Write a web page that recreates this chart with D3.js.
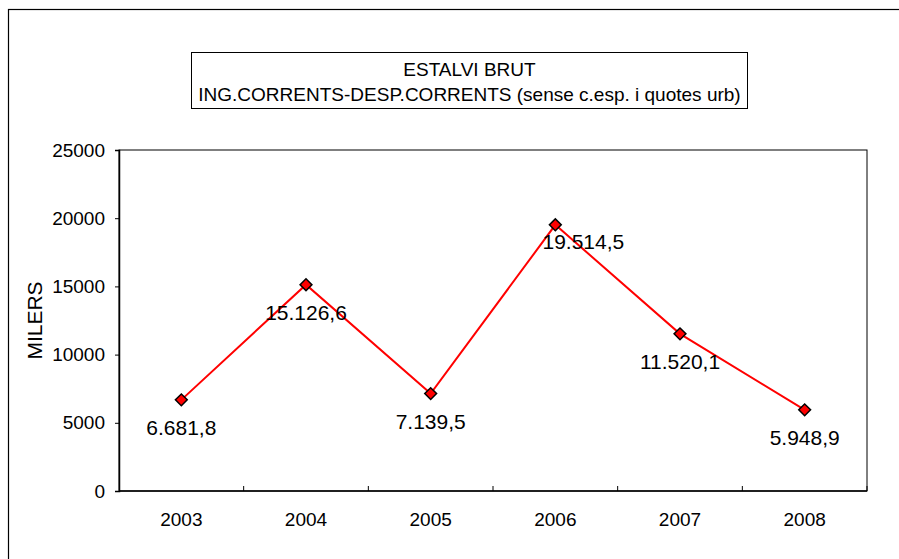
<!DOCTYPE html>
<html><head><meta charset="utf-8">
<script src="https://cdn.jsdelivr.net/npm/d3@7"></script>
<style>html,body{margin:0;padding:0;background:#fff;}svg{display:block;font-family:"Liberation Sans",Arial,sans-serif;}</style>
</head><body>
<svg id="chart" width="899" height="559"></svg>
<script>
const years = ["2003","2004","2005","2006","2007","2008"];
const values = [6681.8, 15126.6, 7139.5, 19514.5, 11520.1, 5948.9];
const valueLabels = ["6.681,8","15.126,6","7.139,5","19.514,5","11.520,1","5.948,9"];
const yTicks = [0,5000,10000,15000,20000,25000];
const titleLines = ["ESTALVI BRUT","ING.CORRENTS-DESP.CORRENTS (sense c.esp. i quotes urb)"];
const yAxisTitle = "MILERS";

const svg = d3.select("#chart");
const W = 899, H = 559;
const m = {left:119, right:867, top:150, bottom:491};

// outer chart border
svg.append("rect").attr("x",8.5).attr("y",9.5).attr("width",W).attr("height",H)
  .attr("fill","#fff").attr("stroke","#000").attr("stroke-width",1.2);

// title box
const tb = svg.append("g");
tb.append("rect").attr("x",191.5).attr("y",52.5).attr("width",556).attr("height",56)
  .attr("fill","#fff").attr("stroke","#000").attr("stroke-width",1);
tb.selectAll("text").data(titleLines).join("text")
  .attr("x",(191.5+747.5)/2).attr("y",(d,i)=>76+i*25)
  .attr("text-anchor","middle").attr("font-size",19).attr("fill","#000").text(d=>d);

const x = d3.scaleBand().domain(years).range([m.left,m.right]).paddingInner(0).paddingOuter(0);
const y = d3.scaleLinear().domain([0,25000]).range([m.bottom,m.top]);

// plot area border
svg.append("rect").attr("x",m.left).attr("y",m.top).attr("width",m.right-m.left).attr("height",m.bottom-m.top)
  .attr("fill","none").attr("stroke","#000").attr("stroke-width",1);

// y axis
const yAxis = svg.append("g").attr("transform",`translate(${m.left},0)`)
  .call(d3.axisLeft(y).tickValues(yTicks).tickSize(4).tickPadding(10).tickFormat(d3.format("d")));
yAxis.select(".domain").attr("stroke","#000").attr("stroke-width",1.5);
yAxis.selectAll("text").attr("font-size",19).attr("fill","#000").style("font-family","'Liberation Sans',Arial,sans-serif");

// x axis (ticks between categories, pointing inward)
const xAxisG = svg.append("g").attr("transform",`translate(0,${m.bottom})`);
xAxisG.append("line").attr("x1",m.left).attr("x2",m.right).attr("y1",0).attr("y2",0)
  .attr("stroke","#000").attr("stroke-width",1.5);
const boundaries = years.map(d=>x(d)).slice(1).concat([m.right]);
xAxisG.selectAll("line.tk").data(boundaries).join("line").attr("class","tk")
  .attr("x1",d=>d).attr("x2",d=>d).attr("y1",0).attr("y2",-5).attr("stroke","#000").attr("stroke-width",1);
xAxisG.selectAll("text").data(years).join("text")
  .attr("x",d=>x(d)+x.bandwidth()/2).attr("y",35)
  .attr("text-anchor","middle").attr("font-size",19).attr("fill","#000").text(d=>d);

// y axis title
svg.append("text").attr("transform",`translate(42,${(m.top+m.bottom)/2}) rotate(-90)`)
  .attr("text-anchor","middle").attr("font-size",21).attr("fill","#000").text(yAxisTitle);

// line
const cx = d=>x(d)+x.bandwidth()/2;
const line = d3.line().x((d,i)=>cx(years[i])).y(d=>y(d));
svg.append("path").datum(values).attr("d",line).attr("fill","none").attr("stroke","#ff0000").attr("stroke-width",2);

// markers
svg.selectAll("path.mk").data(values).join("path").attr("class","mk")
  .attr("d",d3.symbol().type(d3.symbolSquare).size(70))
  .attr("transform",(d,i)=>`translate(${cx(years[i])},${y(d)}) rotate(45)`)
  .attr("fill","#ff0000").attr("stroke","#000").attr("stroke-width",1.5);

// data labels
const labelShift = [[0,35],[0,35],[0,35],[28,24],[0,35],[0,35]];
svg.selectAll("text.lbl").data(values).join("text").attr("class","lbl")
  .attr("x",(d,i)=>cx(years[i])+labelShift[i][0])
  .attr("y",(d,i)=>y(d)+labelShift[i][1])
  .attr("text-anchor","middle").attr("font-size",21).attr("fill","#000")
  .text((d,i)=>valueLabels[i]);
</script>
</body></html>
